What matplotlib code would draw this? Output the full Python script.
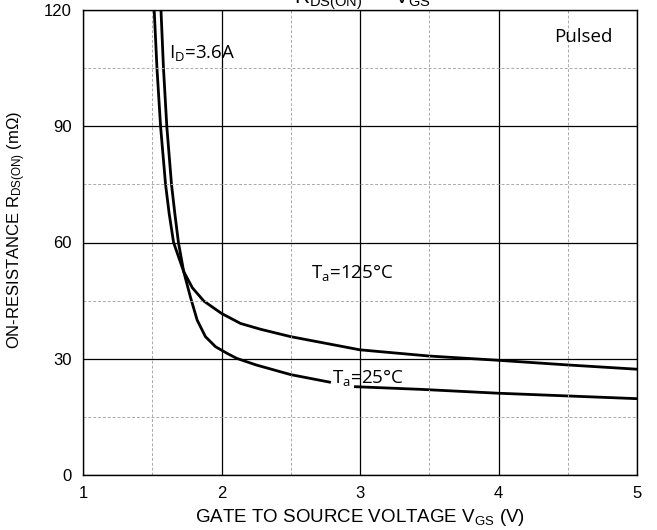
import numpy as np
import matplotlib
matplotlib.use("Agg")
import matplotlib.pyplot as plt
from matplotlib.ticker import MultipleLocator

# R_DS(ON) vs V_GS, I_D = 3.6A
# 25C curve is broken where the "Ta=25C" label sits (split after index 15)
vgs_25 = [1.563, 1.581, 1.605, 1.639, 1.663, 1.689, 1.727, 1.775, 1.824, 1.884, 1.957, 2.04, 2.11,
          2.25, 2.5, 2.79, 2.957, 3.44, 4.0, 4.5, 5.0]
rds_25 = [120, 105, 90, 75, 67.5, 60, 52.5, 46, 40, 35.7, 33.1, 31.4, 30.1,
          28.4, 25.9, 23.9, 22.8, 22.1, 21.1, 20.4, 19.7]
split_25 = 16

vgs_125 = [1.514, 1.534, 1.560, 1.596, 1.622, 1.654, 1.727, 1.79, 1.872, 2.0, 2.138, 2.283, 2.5,
           3.0, 3.5, 4.0, 4.5, 5.0]
rds_125 = [120, 105, 90, 75, 67.5, 60, 52.5, 48.3, 44.9, 41.7, 39.1, 37.6, 35.7,
           32.3, 30.7, 29.6, 28.4, 27.3]

x_ticks = [1, 2, 3, 4, 5]
y_ticks = [0, 30, 60, 90, 120]

plt.rcParams['font.family'] = ['Liberation Sans', 'DejaVu Sans']
plt.rcParams['mathtext.default'] = 'regular'

fig = plt.figure(figsize=(6.57, 5.30), dpi=100)
ax = fig.add_axes([83/657, 55/530, 554/657, 465/530])

line_kw = dict(color='black', lw=2.0, zorder=1, solid_joinstyle='round', solid_capstyle='butt')
ax.plot(vgs_125, rds_125, **line_kw)
ax.plot(vgs_25[:split_25], rds_25[:split_25], **line_kw)
ax.plot(vgs_25[split_25:], rds_25[split_25:], **line_kw)

ax.set_xlim(1, 5)
ax.set_ylim(0, 120)
ax.set_xticks(x_ticks)
ax.set_yticks(y_ticks)
ax.xaxis.set_minor_locator(MultipleLocator(0.5))
ax.yaxis.set_minor_locator(MultipleLocator(15))
ax.set_axisbelow(False)
ax.grid(which='major', color='black', lw=0.9)
ax.grid(which='minor', color='#aaaaaa', lw=0.7, ls=(0, (3, 2)))
ax.tick_params(which='both', length=0, labelsize=12, pad=8)
for s in ax.spines.values():
    s.set_linewidth(1.0)
    s.set_zorder(3)

ax.set_xlabel('GATE TO SOURCE VOLTAGE $V_{GS}$ (V)', fontsize=13.5, labelpad=4)
ax.set_ylabel('ON-RESISTANCE $R_{DS(ON)}$ (m\u03a9)', fontsize=12)
ax.yaxis.set_label_coords(-0.1, 0.527)

ann = dict(family=['Open Sans', 'DejaVu Sans'], fontsize=13.5, ha='left', va='baseline')
ax.text(4.40, 111.8, 'Pulsed', **ann)
ax.text(1.618, 107.5, '$I_D$=3.6A', **ann)
ax.text(2.645, 50.8, '$T_a$=125\u00b0C', **ann)
ax.text(2.80, 23.7, '$T_a$=25\u00b0C', **ann)

# title sits mostly above the cropped top edge, as in the reference
fig.text(362/657, 1.0 - 4/530, '$R_{DS(ON)}$ \u2014 $V_{GS}$', ha='center', va='baseline', fontsize=15)

fig.savefig('out.png', dpi=100)
